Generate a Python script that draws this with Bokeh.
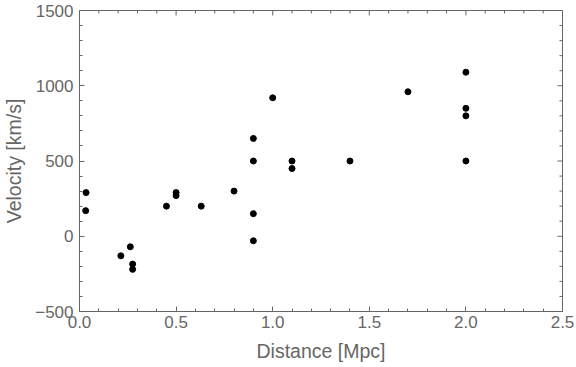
import math
import numpy as np
from bokeh.plotting import figure
from bokeh.models import LinearAxis, FixedTicker, Range1d
from bokeh.embed import file_html
from bokeh.resources import INLINE

# Hubble (1929) data
distance_mpc = [0.032, 0.034, 0.214, 0.263, 0.275, 0.275, 0.45, 0.5, 0.5, 0.63,
                0.8, 0.9, 0.9, 0.9, 0.9, 1.0, 1.1, 1.1, 1.4, 1.7,
                2.0, 2.0, 2.0, 2.0]
velocity_kms = [170, 290, -130, -70, -185, -220, 200, 290, 270, 200,
                300, -30, 650, 150, 500, 920, 450, 500, 500, 960,
                500, 850, 800, 1090]

x_ticks = [0.0, 0.5, 1.0, 1.5, 2.0, 2.5]
x_tick_labels = ["0.0", "0.5", "1.0", "1.5", "2.0", "2.5"]
y_ticks = [-500, 0, 500, 1000, 1500]
y_tick_labels = ["\u2212500", "0", "500", "1000", "1500"]
x_label = "Distance [Mpc]"
y_label = "Velocity [km/s]"

GRAY = "#666666"
FONT = "Liberation Sans"

x_min, x_max = x_ticks[0], x_ticks[-1]
y_min, y_max = y_ticks[0], y_ticks[-1]

p = figure(width=576, height=367, output_backend="svg", toolbar_location=None,
           x_range=Range1d(x_min, x_max), y_range=Range1d(y_min, y_max),
           min_border_left=77, min_border_right=14, min_border_top=10, min_border_bottom=56,
           x_axis_location=None, y_axis_location=None)
p.grid.visible = False
p.outline_line_color = GRAY
p.background_fill_color = "white"
p.border_fill_color = "white"

x_minor = [round(v, 2) for v in np.arange(x_min, x_max + 0.01, 0.1)]
y_minor = [int(v) for v in np.arange(y_min, y_max + 1, 100)]


def make_axis(kind):
    if kind == "x":
        ticker = FixedTicker(ticks=x_ticks, minor_ticks=x_minor)
    else:
        ticker = FixedTicker(ticks=y_ticks, minor_ticks=y_minor)
    ax = LinearAxis(ticker=ticker)
    ax.axis_line_color = GRAY
    ax.major_tick_line_color = GRAY
    ax.minor_tick_line_color = GRAY
    ax.major_tick_in = 5
    ax.major_tick_out = 0
    ax.minor_tick_in = 3
    ax.minor_tick_out = 0
    ax.major_label_text_font = FONT
    ax.major_label_text_font_size = "17px"
    ax.major_label_text_color = GRAY
    ax.axis_label_text_font = FONT
    ax.axis_label_text_font_size = "19.5px"
    ax.axis_label_text_font_style = "normal"
    ax.axis_label_text_color = GRAY
    if kind == "x":
        ax.major_label_overrides = {t: l for t, l in zip(x_ticks, x_tick_labels)}
    else:
        ax.major_label_overrides = {t: l for t, l in zip(y_ticks, y_tick_labels)}
    return ax


bottom = make_axis("x")
bottom.axis_label = x_label
bottom.major_label_standoff = 4
bottom.axis_label_standoff = 9
left = make_axis("y")
left.axis_label = y_label
left.major_label_standoff = 6
left.axis_label_standoff = 7

p.add_layout(bottom, "below")
p.add_layout(left, "left")

# inward ticks on the top and right frame edges (clipped to the frame)
x_minor_only = [v for v in x_minor if v not in x_ticks]
y_minor_only = [v for v in y_minor if v not in y_ticks]
p.scatter(x_ticks, [y_max] * len(x_ticks), marker="dash", size=10, angle=math.pi / 2,
          line_color=GRAY, line_width=1)
p.scatter(x_minor_only, [y_max] * len(x_minor_only), marker="dash", size=6, angle=math.pi / 2,
          line_color=GRAY, line_width=1)
p.scatter([x_max] * len(y_ticks), y_ticks, marker="dash", size=10,
          line_color=GRAY, line_width=1)
p.scatter([x_max] * len(y_minor_only), y_minor_only, marker="dash", size=6,
          line_color=GRAY, line_width=1)

p.scatter(distance_mpc, velocity_kms, size=6, color="black", line_color="black")

open("out.html", "w").write(file_html(p, INLINE))
